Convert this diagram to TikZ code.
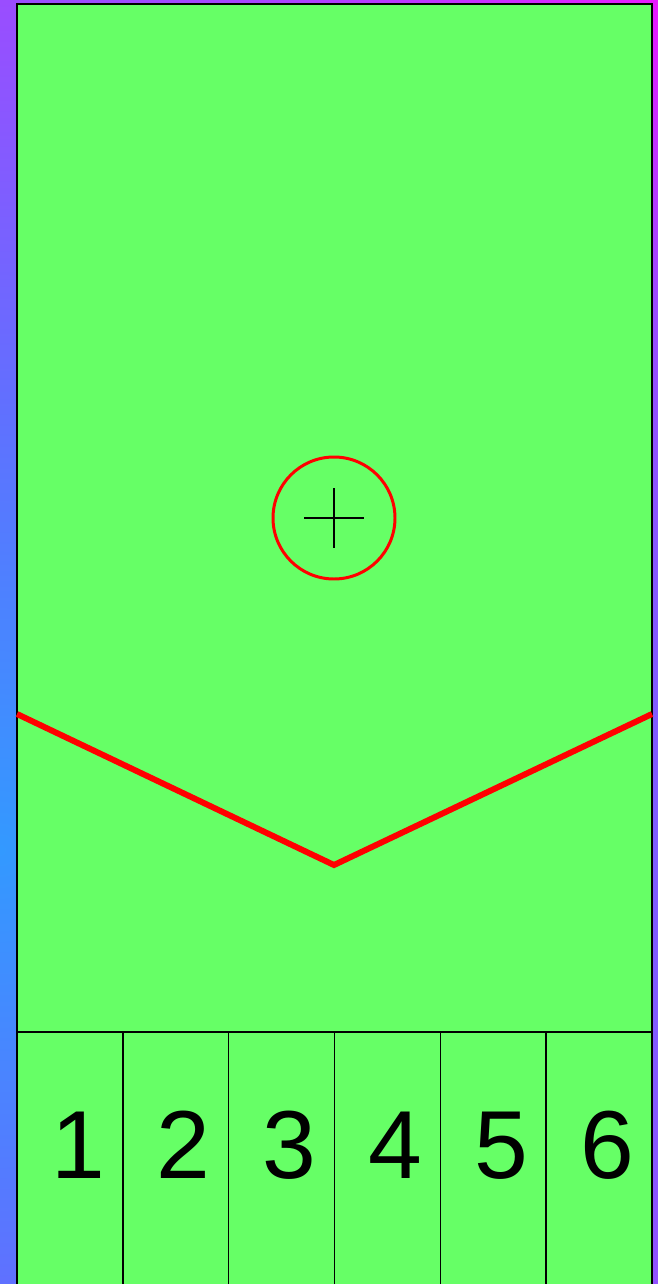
\documentclass[tikz,border=0pt]{standalone}
\usepackage{fontspec}
\setmainfont{Liberation Sans}
\usepackage{xcolor}
\usetikzlibrary{positioning}

\definecolor{bgblue}{RGB}{51,153,255}
\definecolor{bgmid}{RGB}{96,112,255}
\definecolor{bgpurple}{RGB}{154,77,255}
\definecolor{bgmagenta}{RGB}{235,25,255}
\definecolor{fieldgreen}{RGB}{102,255,102}
\definecolor{markred}{RGB}{255,0,0}

% radius 50bp = 1100px after scaling
\pgfdeclareradialshading{backglow}{\pgfpoint{0bp}{0bp}}{%
  color(0bp)=(bgblue); color(20bp)=(bgmid); color(38.5bp)=(bgpurple); color(49bp)=(bgmagenta); color(50bp)=(bgmagenta)}

\begin{document}
\begin{tikzpicture}[
        x=0.02cm, y=-0.02cm,
        field/.style={draw=black, line width=1.1pt, fill=fieldgreen},
        divider/.style={draw=black, line width=0.8pt},
        vline/.style={draw=markred, line width=3.4pt},
        ring/.style={draw=markred, line width=1.7pt},
        crosshair/.style={draw=black, line width=0.6pt},
        lanenum/.style={font=\fontsize{55}{60}\selectfont, anchor=base, inner sep=0pt}
    ]
        \useasboundingbox (0,0) rectangle (658,1284);

        % background
        \begin{scope}
            \clip (0,0) rectangle (658,1284);
            \begin{pgfscope}
                \pgftransformshift{\pgfpoint{0cm}{-17cm}}
                \pgftransformscale{12.5}
                \pgflowlevelsynccm
                \pgfuseshading{backglow}
            \end{pgfscope}
            \fill[fieldgreen] (17,4) rectangle (652,1300);
            \draw[field] (17,1300) -- (17,4) -- (652,4) -- (652,1300);
        \end{scope}

        % target circle
        \coordinate (centre) at (334,518);
        \draw[ring] (centre) circle (61);
        \coordinate (crossW) at (304,518);
        \coordinate (crossE) at (364,518);
        \coordinate (crossN) at (334,488);
        \coordinate (crossS) at (334,548);
        \draw[crosshair] (crossW) -- (crossE);
        \draw[crosshair] (crossN) -- (crossS);

        % red V
        \coordinate (vleft) at (17,714);
        \coordinate (vtip) at (334,865);
        \coordinate (vright) at (652,714);
        \draw[vline] (vleft) -- (vtip) -- (vright);

        % lanes
        \coordinate (laneW) at (17,1032);
        \coordinate (laneE) at (652,1032);
        \draw[divider] (laneW) -- (laneE);
        \foreach \i in {1,...,5} {
            \coordinate (top\i) at ({17+\i*105.83},1032);
            \coordinate (bot\i) at ({17+\i*105.83},1284);
            \draw[divider] (top\i) -- (bot\i);
        }
        \foreach \i in {1,...,6} {
            \node[lanenum] (lane\i) at ({17+(\i-0.5)*105.83+8},1178) {\i};
        }
    \end{tikzpicture}
\end{document}
